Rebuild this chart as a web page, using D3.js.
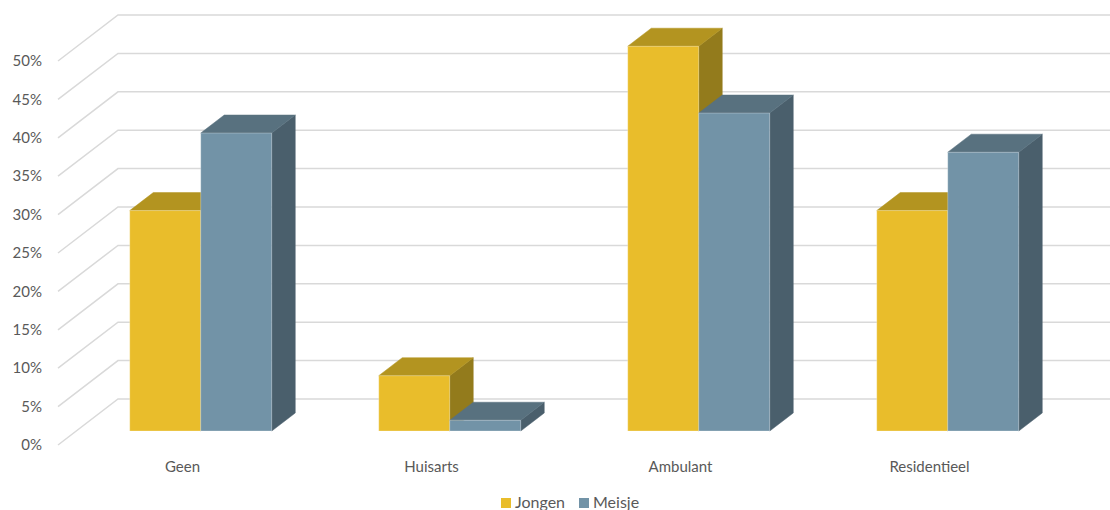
<!DOCTYPE html>
<html>
<head>
<meta charset="utf-8">
<script src="https://cdn.jsdelivr.net/npm/d3@7"></script>
<style>
  html, body { margin: 0; padding: 0; background: #fff; }
  svg { display: block; }
  text { font-family: Lato, "Open Sans", sans-serif; fill: #595959; }
</style>
</head>
<body>
<svg id="chart" width="1110" height="510"></svg>
<script>
// Data
const categories = ["Geen", "Huisarts", "Ambulant", "Residentieel"];
const seriesNames = ["Jongen", "Meisje"];
const jongen = [0.287, 0.072, 0.501, 0.287];
const meisje = [0.388, 0.014, 0.414, 0.363];
const yTicks = [0, 0.05, 0.10, 0.15, 0.20, 0.25, 0.30, 0.35, 0.40, 0.45, 0.50];

const faceColors = {
  Jongen: { front: "#E9BD2B", top: "#B39420", side: "#937B1C" },
  Meisje: { front: "#7293A7", top: "#58717F", side: "#4A5F6C" }
};

const svg = d3.select("#chart");

// Oblique projection: depth d in [0,1] moves a point right and up.
const depthX = 60, depthY = 46;
const y = d3.scaleLinear().domain([0, 0.5]).range([445, 61]);
const x = d3.scaleBand().domain(categories).range([58, 1054]).padding(0);
const xSub = d3.scaleBand().domain(seriesNames).range([0, x.bandwidth()])
  .paddingInner(0).paddingOuter(0.7535);
const barD0 = 0.304, barD1 = 0.696;

const proj = (px, v, d) => [px + d * depthX, y(v) - d * depthY];

// Gridlines: diagonal along the side wall, then flat across the back wall
const grid = svg.append("g");
yTicks.forEach(t => {
  const [fx, fy] = proj(58, t, 0);
  const [bx, by] = proj(58, t, 1);
  grid.append("polyline")
    .attr("points", `${fx},${fy} ${bx},${by} 1110,${by}`)
    .attr("fill", "none")
    .attr("stroke", "#D9D9D9")
    .attr("stroke-width", 1.5);
});

// Value axis labels
const fmt = d3.format(".0%");
svg.append("g").selectAll("text").data(yTicks).join("text")
  .attr("x", 42)
  .attr("y", d => y(d))
  .attr("dy", "0.35em")
  .attr("text-anchor", "end")
  .attr("font-size", 15)
  .text(d => fmt(d));

// Category labels
svg.append("g").selectAll("text").data(categories).join("text")
  .attr("x", d => x(d) + x.bandwidth() / 2)
  .attr("y", 467)
  .attr("dy", "0.35em")
  .attr("text-anchor", "middle")
  .attr("font-size", 15)
  .text(d => d);

// 3D columns
const bars = [];
categories.forEach((c, i) => {
  bars.push({ cat: c, series: "Jongen", value: jongen[i] });
  bars.push({ cat: c, series: "Meisje", value: meisje[i] });
});

const pts = arr => arr.map(p => p.join(",")).join(" ");
const barG = svg.append("g");
bars.forEach(b => {
  const x0 = x(b.cat) + xSub(b.series);
  const x1 = x0 + xSub.bandwidth();
  const col = faceColors[b.series];
  const g = barG.append("g");
  // right side face
  g.append("polygon")
    .attr("points", pts([proj(x1, 0, barD0), proj(x1, 0, barD1), proj(x1, b.value, barD1), proj(x1, b.value, barD0)]))
    .attr("fill", col.side)
    .attr("stroke", col.side).attr("stroke-width", 0.5);
  // top face
  g.append("polygon")
    .attr("points", pts([proj(x0, b.value, barD0), proj(x1, b.value, barD0), proj(x1, b.value, barD1), proj(x0, b.value, barD1)]))
    .attr("fill", col.top)
    .attr("stroke", col.top).attr("stroke-width", 0.5);
  // front face
  g.append("polygon")
    .attr("points", pts([proj(x0, 0, barD0), proj(x1, 0, barD0), proj(x1, b.value, barD0), proj(x0, b.value, barD0)]))
    .attr("fill", col.front)
    .attr("stroke", "rgba(255,255,255,0.35)").attr("stroke-width", 0.8);
});

// Legend
const legend = svg.append("g");
const legendItems = [
  { name: "Jongen", sx: 501, tx: 515 },
  { name: "Meisje", sx: 579, tx: 593 }
];
legendItems.forEach(it => {
  legend.append("rect")
    .attr("x", it.sx).attr("y", 498).attr("width", 10).attr("height", 10)
    .attr("fill", faceColors[it.name].front);
  legend.append("text")
    .attr("x", it.tx).attr("y", 508)
    .attr("font-size", 16)
    .text(it.name);
});
</script>
</body>
</html>
